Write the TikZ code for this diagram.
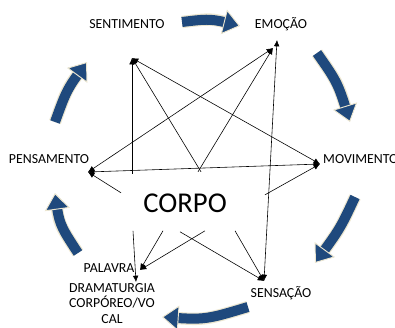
\documentclass[tikz,border=0pt]{standalone}
\usepackage{fontspec}
\setmainfont{Carlito}
\usepackage{tikz}
\usetikzlibrary{arrows.meta, bending, calc}
\definecolor{flowBlue}{RGB}{31,73,125}
\definecolor{flowHalo}{RGB}{236,230,208}

\begin{document}
\begin{tikzpicture}[x=0.03cm, y=-0.03cm,
  lbl/.style={inner sep=0pt, font=\fontsize{11.8}{13.2}\selectfont},
  link/.style={line width=0.5pt, -{Latex[length=1.9mm, width=1.7mm]}},
  both/.style={line width=0.5pt, {Latex[length=1.9mm, width=1.7mm]}-{Latex[length=1.9mm, width=1.7mm]}},
  halo/.style={line width=0.37cm, flowHalo, shorten >=0.3cm},
  flow/.style={line width=0.3cm, flowBlue, -{Triangle[width=0.76cm, length=0.5cm, fill=flowBlue, color=flowHalo, line width=0.8pt]}}]
  \useasboundingbox (0,0) rectangle (395,327);

  \node[lbl, anchor=base] (sent) at (127,28) {SENTIMENTO};
  \node[lbl, anchor=base] (emo) at (281,28) {EMOÇÃO};
  \node[lbl, anchor=base west] (mov) at (323,163) {MOVIMENTO};
  \node[lbl, anchor=base] (pens) at (49,163) {PENSAMENTO};
  \node[lbl, anchor=base] (pal) at (109,272) {PALAVRA};
  \node[lbl, anchor=north, align=center] (dram) at (112,283) {DRAMATURGIA\\CORPÓREO/VO\\CAL};
  \node[lbl, anchor=base] (sens) at (281,297) {SENSAÇÃO};
  \node[inner sep=0pt, font=\fontsize{24.5}{28}\selectfont, anchor=base] (corpo) at (185,212) {CORPO};

  % arrow ends at the outer words
  \coordinate (sentP) at (132,58);
  \coordinate (emoP) at (273,48);
  \coordinate (emoQ) at (277,40);
  \coordinate (movP) at (320,164);
  \coordinate (pensP) at (88,172);
  \coordinate (palP) at (140,270);
  \coordinate (palQ) at (136,282);
  \coordinate (sensP) at (264,281);

  % starts round CORPO
  \coordinate (tA) at ($(corpo.center)+(-53,-29)$);
  \coordinate (tB) at ($(corpo.center)+(16,-31)$);
  \coordinate (tC) at ($(corpo.center)+(13,-31)$);
  \coordinate (lA) at ($(corpo.center)+(-64,-10)$);
  \coordinate (rA) at ($(corpo.center)+(80,-8)$);
  \coordinate (bA) at ($(corpo.center)+(-52,28)$);
  \coordinate (bB) at ($(corpo.center)+(-22,28)$);
  \coordinate (bC) at ($(corpo.center)+(-5,29)$);
  \coordinate (bD) at ($(corpo.center)+(20,28)$);
  \coordinate (bE) at ($(corpo.center)+(50,28)$);

  \draw[link] (tA) -- (sentP);
  \draw[link] (tB) -- (sentP);
  \draw[link] (tC) -- (emoP);
  \draw[link] (lA) -- (pensP);
  \draw[link] (rA) -- (movP);
  \draw[link] (bA) -- (palQ);
  \draw[link] (bB) -- (palP);
  \draw[link] (bD) -- (palP);
  \draw[link] (bC) -- (sensP);
  \draw[link] (bE) -- (sensP);
  \draw[both] (sentP) -- (movP);
  \draw[both] (pensP) -- (emoP);
  \draw[both] (pensP) -- (movP);
  \draw[both] (emoQ) -- (sensP);

  % cycle arrows
  \draw[halo] (182,22) .. controls (211,18.5) .. (240,26);
  \draw[flow] (182,22) .. controls (211,18.5) .. (240,26);
  \draw[halo] (317,53) .. controls (338,83) .. (350,122);
  \draw[flow] (317,53) .. controls (338,83) .. (350,122);
  \draw[halo] (355,197) .. controls (340,229) .. (315,263);
  \draw[flow] (355,197) .. controls (340,229) .. (315,263);
  \draw[halo] (248,307) .. controls (205,320) .. (162,317);
  \draw[flow] (248,307) .. controls (205,320) .. (162,317);
  \draw[halo] (78,253) .. controls (59,224) .. (55,193);
  \draw[flow] (78,253) .. controls (59,224) .. (55,193);
  \draw[halo] (55,122) .. controls (67,89) .. (87,62);
  \draw[flow] (55,122) .. controls (67,89) .. (87,62);
\end{tikzpicture}
\end{document}
